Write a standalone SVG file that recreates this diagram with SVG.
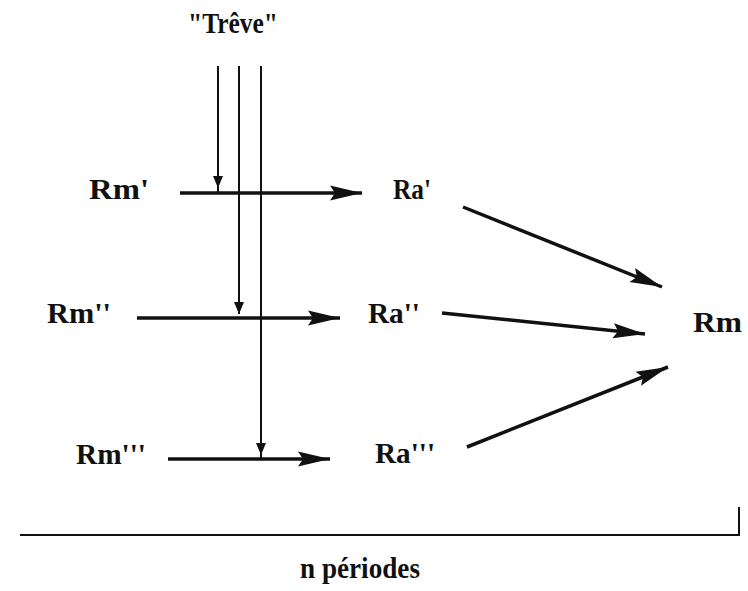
<svg xmlns="http://www.w3.org/2000/svg" width="748" height="591" viewBox="0 0 748 591">
<style>
text{font-family:"Liberation Serif","Times New Roman",serif;font-weight:bold;fill:#111;font-size:30px}
.big{stroke:#111;stroke-width:3.5;fill:none}
.thin{stroke:#111;stroke-width:2;fill:none}
</style>
<defs>
<marker id="ah" markerUnits="userSpaceOnUse" markerWidth="34" markerHeight="18" refX="32" refY="9" orient="auto">
<path d="M0,1.5 L32,9 L0,16.5 L5,9 Z" fill="#111"/>
</marker>
<marker id="as" markerUnits="userSpaceOnUse" markerWidth="14" markerHeight="10" refX="12" refY="5" orient="auto">
<path d="M0,0 L12,5 L0,10 Z" fill="#111"/>
</marker>
</defs>
<rect width="748" height="591" fill="#fff"/>
<g id="treve"><text x="233" y="33" text-anchor="middle" textLength="90" lengthAdjust="spacingAndGlyphs" font-size="26">"Trêve"</text></g>
<g id="rm1"><text x="89" y="199" textLength="60" lengthAdjust="spacingAndGlyphs">Rm'</text></g>
<g id="rm2"><text x="47" y="323" textLength="64" lengthAdjust="spacingAndGlyphs">Rm''</text></g>
<g id="rm3"><text x="76" y="464" textLength="70" lengthAdjust="spacingAndGlyphs">Rm'''</text></g>
<g id="ra1"><text x="393" y="199" textLength="38" lengthAdjust="spacingAndGlyphs">Ra'</text></g>
<g id="ra2"><text x="368" y="323" textLength="52" lengthAdjust="spacingAndGlyphs">Ra''</text></g>
<g id="ra3"><text x="375" y="463" textLength="60" lengthAdjust="spacingAndGlyphs">Ra'''</text></g>
<g id="rm"><text x="693" y="332" textLength="49" lengthAdjust="spacingAndGlyphs">Rm</text></g>
<g id="periodes">
<path class="thin" d="M20,535 H739 V507"/>
<text x="300" y="578" textLength="120" lengthAdjust="spacingAndGlyphs" font-size="26">n  périodes</text>
</g>
<g id="connectors">
<line class="thin" x1="218" y1="66" x2="218" y2="188" marker-end="url(#as)"/>
<line class="thin" x1="218" y1="186" x2="218" y2="193"/>
<line class="thin" x1="239" y1="66" x2="239" y2="314" marker-end="url(#as)"/>
<line class="thin" x1="261" y1="66" x2="261" y2="455" marker-end="url(#as)"/>
<line class="thin" x1="261" y1="453" x2="261" y2="459"/>
<line class="big" x1="180" y1="193" x2="362" y2="193" marker-end="url(#ah)"/>
<line class="big" x1="137" y1="318" x2="340" y2="318" marker-end="url(#ah)"/>
<line class="big" x1="168" y1="459" x2="330" y2="459" marker-end="url(#ah)"/>
<line class="big" x1="463" y1="207" x2="662" y2="287" marker-end="url(#ah)"/>
<line class="big" x1="442" y1="313" x2="645" y2="334" marker-end="url(#ah)"/>
<line class="big" x1="467" y1="447" x2="668" y2="367" marker-end="url(#ah)"/>
</g>
</svg>
